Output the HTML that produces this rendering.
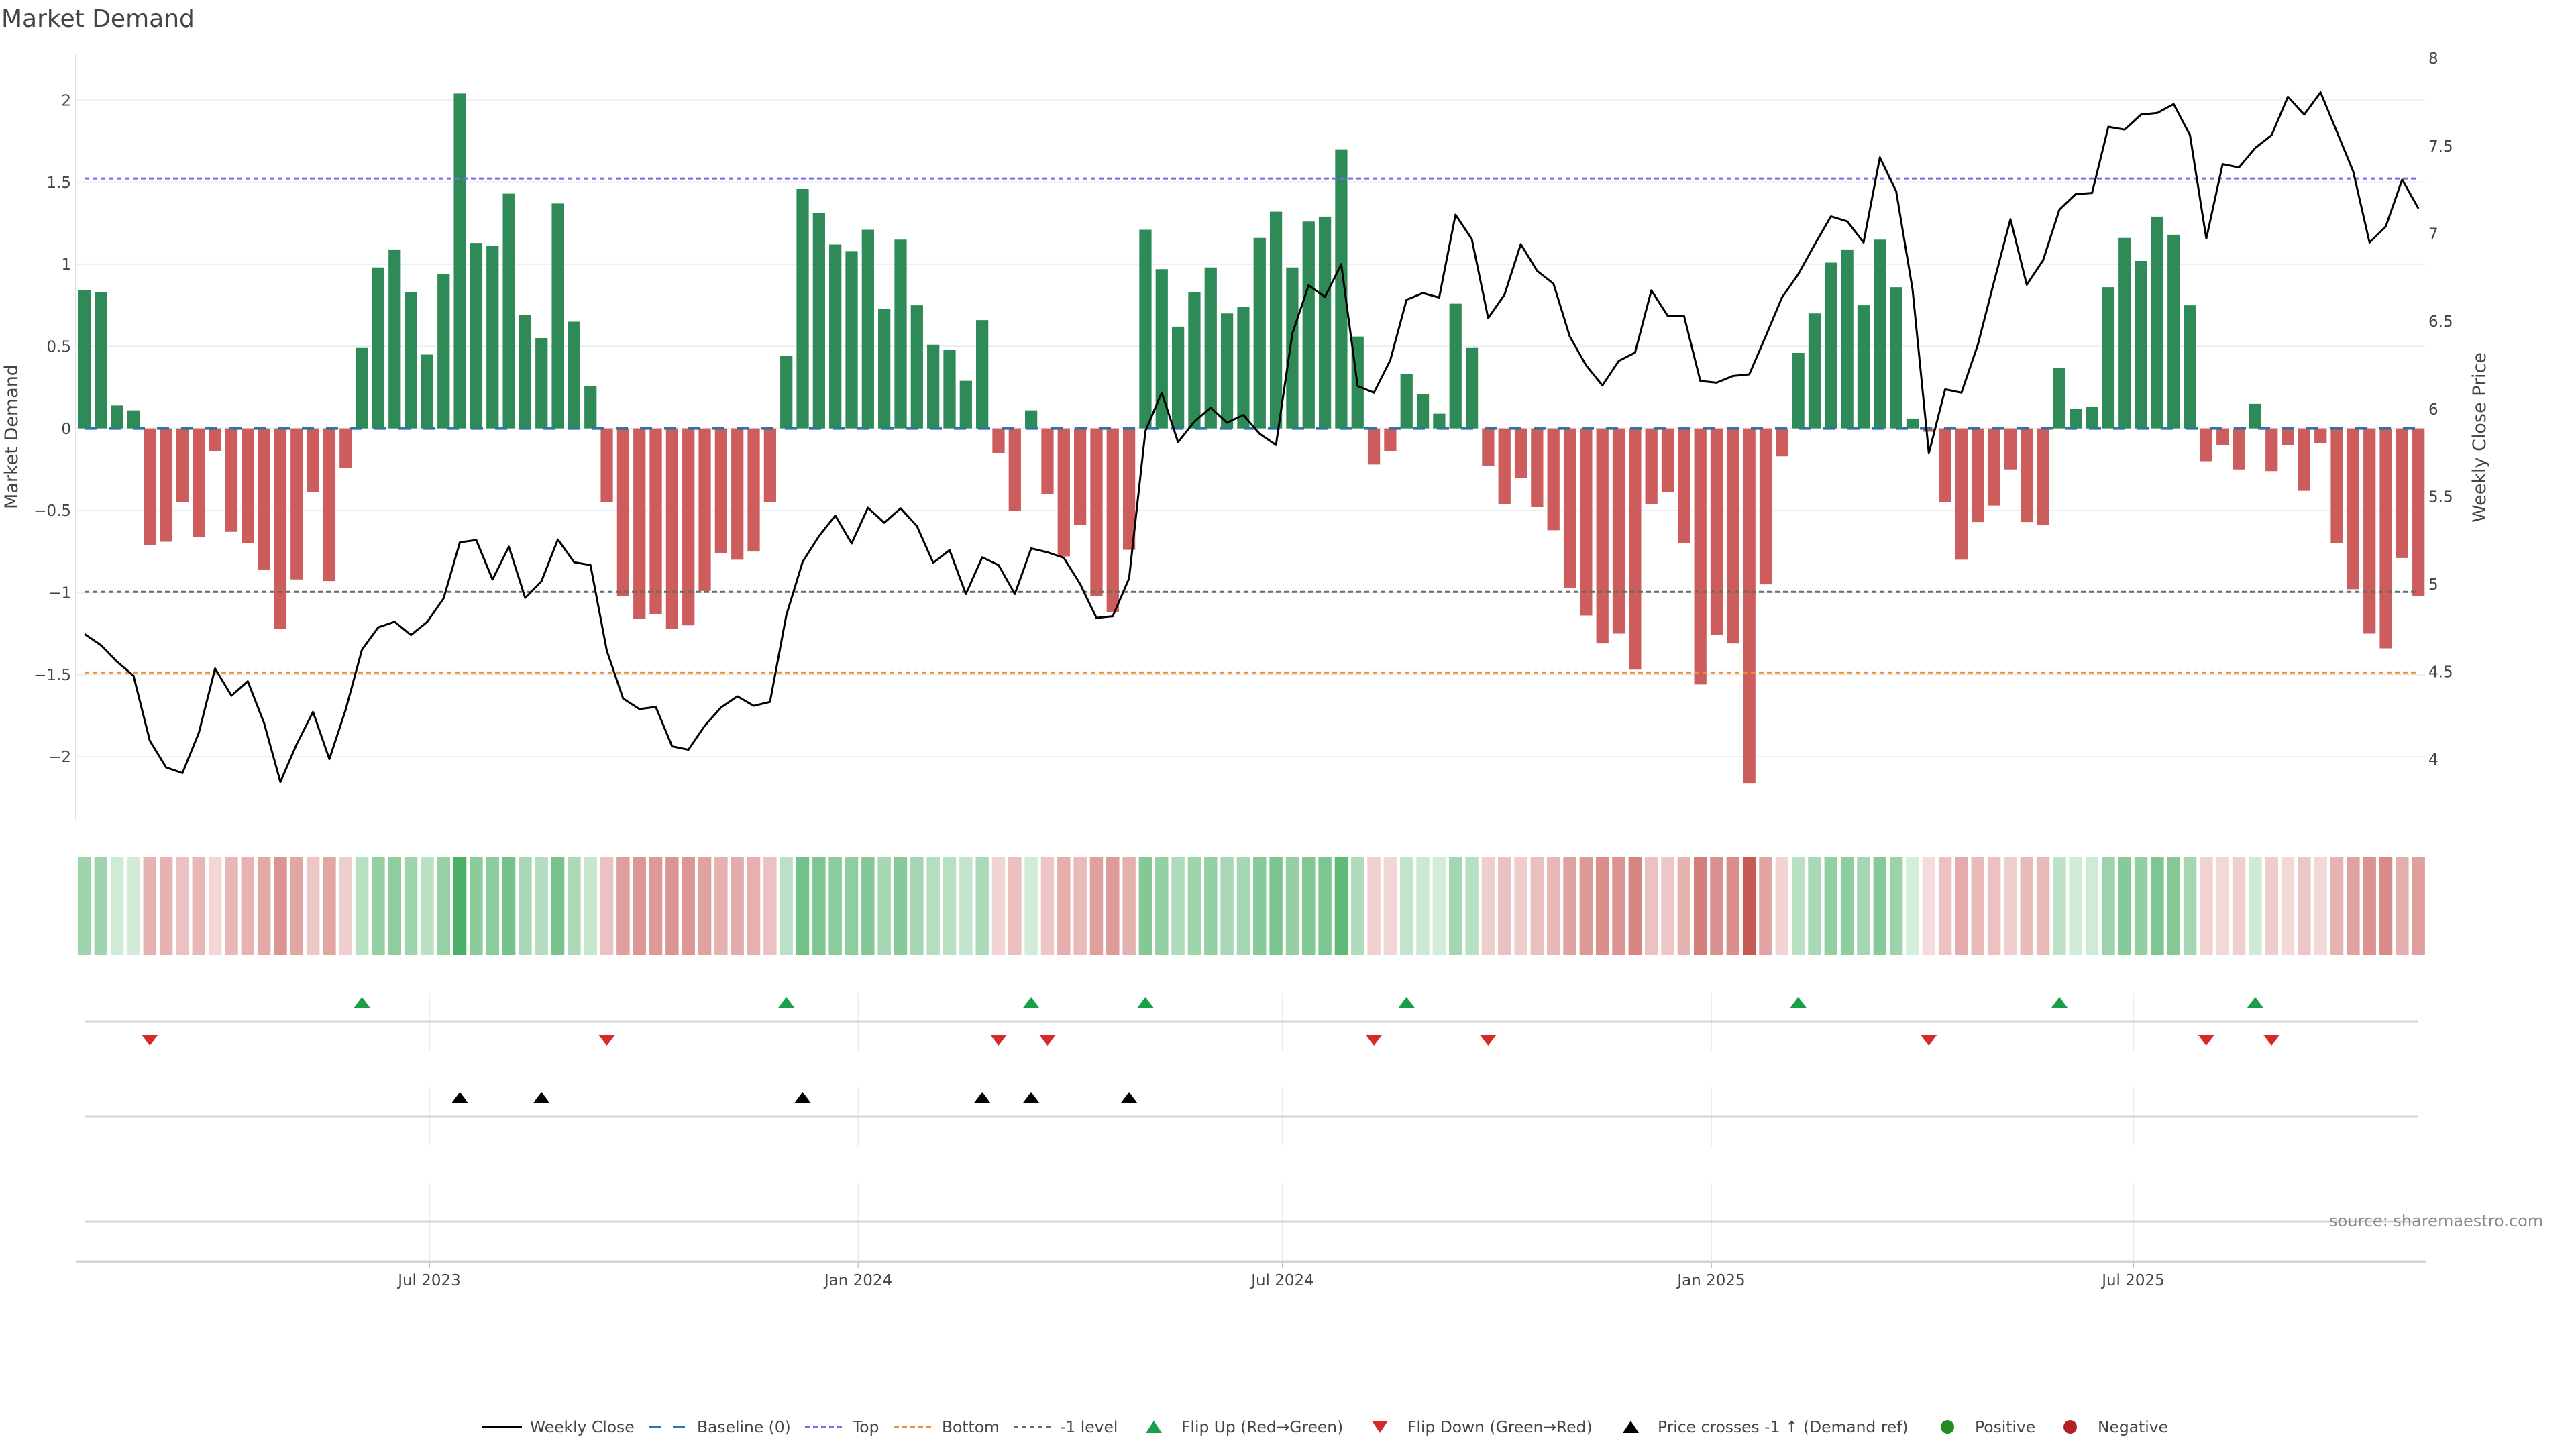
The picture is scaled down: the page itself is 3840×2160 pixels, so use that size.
<!DOCTYPE html>
<html><head><meta charset="utf-8"><title>Market Demand</title>
<style>
html,body{margin:0;padding:0;background:#fff;}
svg{display:block;font-family:"DejaVu Sans","Liberation Sans",sans-serif;}
.g{fill:#41ab5d}.r{fill:#c85a56}
.tk{font-size:23px;fill:#444}
.lg{font-size:23.4px;fill:#444}
</style></head>
<body>
<svg width="3840" height="2160" viewBox="0 0 3840 2160" xmlns="http://www.w3.org/2000/svg">
<rect width="3840" height="2160" fill="#fff"/>
<text x="2" y="40" font-size="36" fill="#444">Market Demand</text>

<!-- horizontal gridlines -->
<g stroke="#ebeef2" stroke-width="2">
<line x1="113" x2="3615" y1="149.2" y2="149.2"/>
<line x1="113" x2="3615" y1="271.6" y2="271.6"/>
<line x1="113" x2="3615" y1="393.9" y2="393.9"/>
<line x1="113" x2="3615" y1="516.3" y2="516.3"/>
<line x1="113" x2="3615" y1="638.6" y2="638.6"/>
<line x1="113" x2="3615" y1="761" y2="761"/>
<line x1="113" x2="3615" y1="883.3" y2="883.3"/>
<line x1="113" x2="3615" y1="1005.7" y2="1005.7"/>
<line x1="113" x2="3615" y1="1128" y2="1128"/>
</g>
<line x1="113" x2="113" y1="80" y2="1223" stroke="#dde1e6" stroke-width="2"/>

<!-- left ticks -->
<g class="tk" text-anchor="end">
<text x="106" y="157.5">2</text>
<text x="106" y="280">1.5</text>
<text x="106" y="402">1</text>
<text x="106" y="524.5">0.5</text>
<text x="106" y="647">0</text>
<text x="106" y="769">−0.5</text>
<text x="106" y="891.5">−1</text>
<text x="106" y="1014">−1.5</text>
<text x="106" y="1136">−2</text>
</g>
<!-- right ticks -->
<g class="tk">
<text x="3620" y="95">8</text>
<text x="3620" y="226">7.5</text>
<text x="3620" y="356.5">7</text>
<text x="3620" y="487">6.5</text>
<text x="3620" y="618">6</text>
<text x="3620" y="748.5">5.5</text>
<text x="3620" y="879">5</text>
<text x="3620" y="1009.5">4.5</text>
<text x="3620" y="1140">4</text>
</g>
<text transform="translate(26,651) rotate(-90)" text-anchor="middle" font-size="27" fill="#444">Market Demand</text>
<text transform="translate(3705,652) rotate(-90)" text-anchor="middle" font-size="27" fill="#444">Weekly Close Price</text>

<!-- bars -->
<g transform="translate(126,638.6) scale(24.33,-244.7)">
<path fill="#2e8b57" d="M-.375 0h.75v.84h-.75zM.625 0h.75v.83h-.75zM1.625 0h.75v.14h-.75zM2.625 0h.75v.11h-.75zM16.625 0h.75v.49h-.75zM17.625 0h.75v.98h-.75zM18.625 0h.75v1.09h-.75zM19.625 0h.75v.83h-.75zM20.625 0h.75v.45h-.75zM21.625 0h.75v.94h-.75zM22.625 0h.75v2.04h-.75zM23.625 0h.75v1.13h-.75zM24.625 0h.75v1.11h-.75zM25.625 0h.75v1.43h-.75zM26.625 0h.75v.69h-.75zM27.625 0h.75v.55h-.75zM28.625 0h.75v1.37h-.75zM29.625 0h.75v.65h-.75zM30.625 0h.75v.26h-.75zM42.625 0h.75v.44h-.75zM43.625 0h.75v1.46h-.75zM44.625 0h.75v1.31h-.75zM45.625 0h.75v1.12h-.75zM46.625 0h.75v1.08h-.75zM47.625 0h.75v1.21h-.75zM48.625 0h.75v.73h-.75zM49.625 0h.75v1.15h-.75zM50.625 0h.75v.75h-.75zM51.625 0h.75v.51h-.75zM52.625 0h.75v.48h-.75zM53.625 0h.75v.29h-.75zM54.625 0h.75v.66h-.75zM57.625 0h.75v.11h-.75zM64.625 0h.75v1.21h-.75zM65.625 0h.75v.97h-.75zM66.625 0h.75v.62h-.75zM67.625 0h.75v.83h-.75zM68.625 0h.75v.98h-.75zM69.625 0h.75v.70h-.75zM70.625 0h.75v.74h-.75zM71.625 0h.75v1.16h-.75zM72.625 0h.75v1.32h-.75zM73.625 0h.75v.98h-.75zM74.625 0h.75v1.26h-.75zM75.625 0h.75v1.29h-.75zM76.625 0h.75v1.70h-.75zM77.625 0h.75v.56h-.75zM80.625 0h.75v.33h-.75zM81.625 0h.75v.21h-.75zM82.625 0h.75v.09h-.75zM83.625 0h.75v.76h-.75zM84.625 0h.75v.49h-.75zM104.625 0h.75v.46h-.75zM105.625 0h.75v.70h-.75zM106.625 0h.75v1.01h-.75zM107.625 0h.75v1.09h-.75zM108.625 0h.75v.75h-.75zM109.625 0h.75v1.15h-.75zM110.625 0h.75v.86h-.75zM111.625 0h.75v.06h-.75zM120.625 0h.75v.37h-.75zM121.625 0h.75v.12h-.75zM122.625 0h.75v.13h-.75zM123.625 0h.75v.86h-.75zM124.625 0h.75v1.16h-.75zM125.625 0h.75v1.02h-.75zM126.625 0h.75v1.29h-.75zM127.625 0h.75v1.18h-.75zM128.625 0h.75v.75h-.75zM132.625 0h.75v.15h-.75z"/>
<path fill="#cd5c5c" d="M3.625 0h.75v-.71h-.75zM4.625 0h.75v-.69h-.75zM5.625 0h.75v-.45h-.75zM6.625 0h.75v-.66h-.75zM7.625 0h.75v-.14h-.75zM8.625 0h.75v-.63h-.75zM9.625 0h.75v-.70h-.75zM10.625 0h.75v-.86h-.75zM11.625 0h.75v-1.22h-.75zM12.625 0h.75v-.92h-.75zM13.625 0h.75v-.39h-.75zM14.625 0h.75v-.93h-.75zM15.625 0h.75v-.24h-.75zM31.625 0h.75v-.45h-.75zM32.625 0h.75v-1.02h-.75zM33.625 0h.75v-1.16h-.75zM34.625 0h.75v-1.13h-.75zM35.625 0h.75v-1.22h-.75zM36.625 0h.75v-1.20h-.75zM37.625 0h.75v-.99h-.75zM38.625 0h.75v-.76h-.75zM39.625 0h.75v-.80h-.75zM40.625 0h.75v-.75h-.75zM41.625 0h.75v-.45h-.75zM55.625 0h.75v-.15h-.75zM56.625 0h.75v-.50h-.75zM58.625 0h.75v-.40h-.75zM59.625 0h.75v-.78h-.75zM60.625 0h.75v-.59h-.75zM61.625 0h.75v-1.02h-.75zM62.625 0h.75v-1.12h-.75zM63.625 0h.75v-.74h-.75zM78.625 0h.75v-.22h-.75zM79.625 0h.75v-.14h-.75zM85.625 0h.75v-.23h-.75zM86.625 0h.75v-.46h-.75zM87.625 0h.75v-.30h-.75zM88.625 0h.75v-.48h-.75zM89.625 0h.75v-.62h-.75zM90.625 0h.75v-.97h-.75zM91.625 0h.75v-1.14h-.75zM92.625 0h.75v-1.31h-.75zM93.625 0h.75v-1.25h-.75zM94.625 0h.75v-1.47h-.75zM95.625 0h.75v-.46h-.75zM96.625 0h.75v-.39h-.75zM97.625 0h.75v-.70h-.75zM98.625 0h.75v-1.56h-.75zM99.625 0h.75v-1.26h-.75zM100.625 0h.75v-1.31h-.75zM101.625 0h.75v-2.16h-.75zM102.625 0h.75v-.95h-.75zM103.625 0h.75v-.17h-.75zM112.625 0h.75v-.02h-.75zM113.625 0h.75v-.45h-.75zM114.625 0h.75v-.80h-.75zM115.625 0h.75v-.57h-.75zM116.625 0h.75v-.47h-.75zM117.625 0h.75v-.25h-.75zM118.625 0h.75v-.57h-.75zM119.625 0h.75v-.59h-.75zM129.625 0h.75v-.20h-.75zM130.625 0h.75v-.10h-.75zM131.625 0h.75v-.25h-.75zM133.625 0h.75v-.26h-.75zM134.625 0h.75v-.10h-.75zM135.625 0h.75v-.38h-.75zM136.625 0h.75v-.09h-.75zM137.625 0h.75v-.70h-.75zM138.625 0h.75v-.98h-.75zM139.625 0h.75v-1.25h-.75zM140.625 0h.75v-1.34h-.75zM141.625 0h.75v-.79h-.75zM142.625 0h.75v-1.02h-.75z"/>
</g>

<!-- reference lines -->
<line x1="126" x2="3605" y1="266.1" y2="266.1" stroke="#7b68ee" stroke-width="3" stroke-dasharray="7,5"/>
<line x1="126" x2="3605" y1="882.3" y2="882.3" stroke="#6a6a6a" stroke-width="3" stroke-dasharray="7,5"/>
<line x1="126" x2="3605" y1="1002.4" y2="1002.4" stroke="#ea9032" stroke-width="3" stroke-dasharray="7,5"/>
<line x1="126" x2="3605" y1="638.6" y2="638.6" stroke="#2f74a8" stroke-width="4" stroke-dasharray="18,18"/>

<!-- price line -->
<g transform="translate(126,0) scale(24.33,0.82905)">
<polyline fill="none" stroke="#000" stroke-width="3" stroke-linejoin="round" vector-effect="non-scaling-stroke" points="0,1140 1,1160 2,1190 3,1215 4,1332 5,1380 6,1390 7,1318 8,1202 9,1251 10,1225 11,1300 12,1406 13,1338 14,1280 15,1365 16,1276 17,1168 18,1128 19,1118 20,1142 21,1118 22,1076 23,975 24,971 25,1042 26,983 27,1075 28,1045 29,970 30,1011 31,1016 32,1170 33,1256 34,1275 35,1271 36,1342 37,1348 38,1305 39,1272 40,1252 41,1269 42,1262 43,1106 44,1010 45,964 46,927 47,977 48,913 49,940 50,914 51,946 52,1012 53,989 54,1068 55,1002 56,1016 57,1068 58,986 59,993 60,1003 61,1050 62,1111 63,1108 64,1040 65,775 66,706 67,795 68,758 69,733 70,760 71,746 72,780 73,800 74,600 75,513 76,534 77,475 78,694 79,706 80,648 81,539 82,527 83,535 84,386 85,430 86,572 87,530 88,439 89,487 90,510 91,605 92,657 93,693 94,649 95,634 96,522 97,568 98,568 99,685 100,688 101,676 102,673 103,605 104,535 105,493 106,440 107,389 108,398 109,436 110,283 111,344 112,520 113,815 114,700 115,706 116,620 117,506 118,394 119,512 120,468 121,377 122,349 123,347 124,228 125,233 126,206 127,203 128,187 129,243 130,429 131,295 132,301 133,266 134,243 135,174 136,206 137,166 138,237 139,308 140,436 141,407 142,323 143,375"/>
</g>

<!-- heat strip -->
<g transform="translate(126,0) scale(24.33,1)">
<rect class="g" fill-opacity=".51" x="-.4" y="1278" width=".8" height="146"/>
<rect class="g" fill-opacity=".51" x=".6" y="1278" width=".8" height="146"/>
<rect class="g" fill-opacity=".25" x="1.6" y="1278" width=".8" height="146"/>
<rect class="g" fill-opacity=".24" x="2.6" y="1278" width=".8" height="146"/>
<rect class="r" fill-opacity=".46" x="3.6" y="1278" width=".8" height="146"/>
<rect class="r" fill-opacity=".46" x="4.6" y="1278" width=".8" height="146"/>
<rect class="r" fill-opacity=".37" x="5.6" y="1278" width=".8" height="146"/>
<rect class="r" fill-opacity=".44" x="6.6" y="1278" width=".8" height="146"/>
<rect class="r" fill-opacity=".25" x="7.6" y="1278" width=".8" height="146"/>
<rect class="r" fill-opacity=".43" x="8.6" y="1278" width=".8" height="146"/>
<rect class="r" fill-opacity=".46" x="9.6" y="1278" width=".8" height="146"/>
<rect class="r" fill-opacity=".52" x="10.6" y="1278" width=".8" height="146"/>
<rect class="r" fill-opacity=".65" x="11.6" y="1278" width=".8" height="146"/>
<rect class="r" fill-opacity=".54" x="12.6" y="1278" width=".8" height="146"/>
<rect class="r" fill-opacity=".34" x="13.6" y="1278" width=".8" height="146"/>
<rect class="r" fill-opacity=".54" x="14.6" y="1278" width=".8" height="146"/>
<rect class="r" fill-opacity=".29" x="15.6" y="1278" width=".8" height="146"/>
<rect class="g" fill-opacity=".38" x="16.6" y="1278" width=".8" height="146"/>
<rect class="g" fill-opacity=".56" x="17.6" y="1278" width=".8" height="146"/>
<rect class="g" fill-opacity=".60" x="18.6" y="1278" width=".8" height="146"/>
<rect class="g" fill-opacity=".51" x="19.6" y="1278" width=".8" height="146"/>
<rect class="g" fill-opacity=".37" x="20.6" y="1278" width=".8" height="146"/>
<rect class="g" fill-opacity=".55" x="21.6" y="1278" width=".8" height="146"/>
<rect class="g" fill-opacity=".95" x="22.6" y="1278" width=".8" height="146"/>
<rect class="g" fill-opacity=".62" x="23.6" y="1278" width=".8" height="146"/>
<rect class="g" fill-opacity=".61" x="24.6" y="1278" width=".8" height="146"/>
<rect class="g" fill-opacity=".73" x="25.6" y="1278" width=".8" height="146"/>
<rect class="g" fill-opacity=".46" x="26.6" y="1278" width=".8" height="146"/>
<rect class="g" fill-opacity=".40" x="27.6" y="1278" width=".8" height="146"/>
<rect class="g" fill-opacity=".71" x="28.6" y="1278" width=".8" height="146"/>
<rect class="g" fill-opacity=".44" x="29.6" y="1278" width=".8" height="146"/>
<rect class="g" fill-opacity=".30" x="30.6" y="1278" width=".8" height="146"/>
<rect class="r" fill-opacity=".37" x="31.6" y="1278" width=".8" height="146"/>
<rect class="r" fill-opacity=".58" x="32.6" y="1278" width=".8" height="146"/>
<rect class="r" fill-opacity=".63" x="33.6" y="1278" width=".8" height="146"/>
<rect class="r" fill-opacity=".62" x="34.6" y="1278" width=".8" height="146"/>
<rect class="r" fill-opacity=".65" x="35.6" y="1278" width=".8" height="146"/>
<rect class="r" fill-opacity=".64" x="36.6" y="1278" width=".8" height="146"/>
<rect class="r" fill-opacity=".57" x="37.6" y="1278" width=".8" height="146"/>
<rect class="r" fill-opacity=".48" x="38.6" y="1278" width=".8" height="146"/>
<rect class="r" fill-opacity=".50" x="39.6" y="1278" width=".8" height="146"/>
<rect class="r" fill-opacity=".48" x="40.6" y="1278" width=".8" height="146"/>
<rect class="r" fill-opacity=".37" x="41.6" y="1278" width=".8" height="146"/>
<rect class="g" fill-opacity=".36" x="42.6" y="1278" width=".8" height="146"/>
<rect class="g" fill-opacity=".74" x="43.6" y="1278" width=".8" height="146"/>
<rect class="g" fill-opacity=".68" x="44.6" y="1278" width=".8" height="146"/>
<rect class="g" fill-opacity=".61" x="45.6" y="1278" width=".8" height="146"/>
<rect class="g" fill-opacity=".60" x="46.6" y="1278" width=".8" height="146"/>
<rect class="g" fill-opacity=".65" x="47.6" y="1278" width=".8" height="146"/>
<rect class="g" fill-opacity=".47" x="48.6" y="1278" width=".8" height="146"/>
<rect class="g" fill-opacity=".63" x="49.6" y="1278" width=".8" height="146"/>
<rect class="g" fill-opacity=".48" x="50.6" y="1278" width=".8" height="146"/>
<rect class="g" fill-opacity=".39" x="51.6" y="1278" width=".8" height="146"/>
<rect class="g" fill-opacity=".38" x="52.6" y="1278" width=".8" height="146"/>
<rect class="g" fill-opacity=".31" x="53.6" y="1278" width=".8" height="146"/>
<rect class="g" fill-opacity=".44" x="54.6" y="1278" width=".8" height="146"/>
<rect class="r" fill-opacity=".26" x="55.6" y="1278" width=".8" height="146"/>
<rect class="r" fill-opacity=".39" x="56.6" y="1278" width=".8" height="146"/>
<rect class="g" fill-opacity=".24" x="57.6" y="1278" width=".8" height="146"/>
<rect class="r" fill-opacity=".35" x="58.6" y="1278" width=".8" height="146"/>
<rect class="r" fill-opacity=".49" x="59.6" y="1278" width=".8" height="146"/>
<rect class="r" fill-opacity=".42" x="60.6" y="1278" width=".8" height="146"/>
<rect class="r" fill-opacity=".58" x="61.6" y="1278" width=".8" height="146"/>
<rect class="r" fill-opacity=".61" x="62.6" y="1278" width=".8" height="146"/>
<rect class="r" fill-opacity=".47" x="63.6" y="1278" width=".8" height="146"/>
<rect class="g" fill-opacity=".65" x="64.6" y="1278" width=".8" height="146"/>
<rect class="g" fill-opacity=".56" x="65.6" y="1278" width=".8" height="146"/>
<rect class="g" fill-opacity=".43" x="66.6" y="1278" width=".8" height="146"/>
<rect class="g" fill-opacity=".51" x="67.6" y="1278" width=".8" height="146"/>
<rect class="g" fill-opacity=".56" x="68.6" y="1278" width=".8" height="146"/>
<rect class="g" fill-opacity=".46" x="69.6" y="1278" width=".8" height="146"/>
<rect class="g" fill-opacity=".47" x="70.6" y="1278" width=".8" height="146"/>
<rect class="g" fill-opacity=".63" x="71.6" y="1278" width=".8" height="146"/>
<rect class="g" fill-opacity=".69" x="72.6" y="1278" width=".8" height="146"/>
<rect class="g" fill-opacity=".56" x="73.6" y="1278" width=".8" height="146"/>
<rect class="g" fill-opacity=".67" x="74.6" y="1278" width=".8" height="146"/>
<rect class="g" fill-opacity=".68" x="75.6" y="1278" width=".8" height="146"/>
<rect class="g" fill-opacity=".83" x="76.6" y="1278" width=".8" height="146"/>
<rect class="g" fill-opacity=".41" x="77.6" y="1278" width=".8" height="146"/>
<rect class="r" fill-opacity=".28" x="78.6" y="1278" width=".8" height="146"/>
<rect class="r" fill-opacity=".25" x="79.6" y="1278" width=".8" height="146"/>
<rect class="g" fill-opacity=".32" x="80.6" y="1278" width=".8" height="146"/>
<rect class="g" fill-opacity=".28" x="81.6" y="1278" width=".8" height="146"/>
<rect class="g" fill-opacity=".23" x="82.6" y="1278" width=".8" height="146"/>
<rect class="g" fill-opacity=".48" x="83.6" y="1278" width=".8" height="146"/>
<rect class="g" fill-opacity=".38" x="84.6" y="1278" width=".8" height="146"/>
<rect class="r" fill-opacity=".29" x="85.6" y="1278" width=".8" height="146"/>
<rect class="r" fill-opacity=".37" x="86.6" y="1278" width=".8" height="146"/>
<rect class="r" fill-opacity=".31" x="87.6" y="1278" width=".8" height="146"/>
<rect class="r" fill-opacity=".38" x="88.6" y="1278" width=".8" height="146"/>
<rect class="r" fill-opacity=".43" x="89.6" y="1278" width=".8" height="146"/>
<rect class="r" fill-opacity=".56" x="90.6" y="1278" width=".8" height="146"/>
<rect class="r" fill-opacity=".62" x="91.6" y="1278" width=".8" height="146"/>
<rect class="r" fill-opacity=".68" x="92.6" y="1278" width=".8" height="146"/>
<rect class="r" fill-opacity=".66" x="93.6" y="1278" width=".8" height="146"/>
<rect class="r" fill-opacity=".74" x="94.6" y="1278" width=".8" height="146"/>
<rect class="r" fill-opacity=".37" x="95.6" y="1278" width=".8" height="146"/>
<rect class="r" fill-opacity=".34" x="96.6" y="1278" width=".8" height="146"/>
<rect class="r" fill-opacity=".46" x="97.6" y="1278" width=".8" height="146"/>
<rect class="r" fill-opacity=".78" x="98.6" y="1278" width=".8" height="146"/>
<rect class="r" fill-opacity=".67" x="99.6" y="1278" width=".8" height="146"/>
<rect class="r" fill-opacity=".68" x="100.6" y="1278" width=".8" height="146"/>
<rect class="r" fill-opacity="1" x="101.6" y="1278" width=".8" height="146"/>
<rect class="r" fill-opacity=".55" x="102.6" y="1278" width=".8" height="146"/>
<rect class="r" fill-opacity=".26" x="103.6" y="1278" width=".8" height="146"/>
<rect class="g" fill-opacity=".37" x="104.6" y="1278" width=".8" height="146"/>
<rect class="g" fill-opacity=".46" x="105.6" y="1278" width=".8" height="146"/>
<rect class="g" fill-opacity=".57" x="106.6" y="1278" width=".8" height="146"/>
<rect class="g" fill-opacity=".60" x="107.6" y="1278" width=".8" height="146"/>
<rect class="g" fill-opacity=".48" x="108.6" y="1278" width=".8" height="146"/>
<rect class="g" fill-opacity=".63" x="109.6" y="1278" width=".8" height="146"/>
<rect class="g" fill-opacity=".52" x="110.6" y="1278" width=".8" height="146"/>
<rect class="g" fill-opacity=".22" x="111.6" y="1278" width=".8" height="146"/>
<rect class="r" fill-opacity=".21" x="112.6" y="1278" width=".8" height="146"/>
<rect class="r" fill-opacity=".37" x="113.6" y="1278" width=".8" height="146"/>
<rect class="r" fill-opacity=".50" x="114.6" y="1278" width=".8" height="146"/>
<rect class="r" fill-opacity=".41" x="115.6" y="1278" width=".8" height="146"/>
<rect class="r" fill-opacity=".37" x="116.6" y="1278" width=".8" height="146"/>
<rect class="r" fill-opacity=".29" x="117.6" y="1278" width=".8" height="146"/>
<rect class="r" fill-opacity=".41" x="118.6" y="1278" width=".8" height="146"/>
<rect class="r" fill-opacity=".42" x="119.6" y="1278" width=".8" height="146"/>
<rect class="g" fill-opacity=".34" x="120.6" y="1278" width=".8" height="146"/>
<rect class="g" fill-opacity=".24" x="121.6" y="1278" width=".8" height="146"/>
<rect class="g" fill-opacity=".25" x="122.6" y="1278" width=".8" height="146"/>
<rect class="g" fill-opacity=".52" x="123.6" y="1278" width=".8" height="146"/>
<rect class="g" fill-opacity=".63" x="124.6" y="1278" width=".8" height="146"/>
<rect class="g" fill-opacity=".58" x="125.6" y="1278" width=".8" height="146"/>
<rect class="g" fill-opacity=".68" x="126.6" y="1278" width=".8" height="146"/>
<rect class="g" fill-opacity=".64" x="127.6" y="1278" width=".8" height="146"/>
<rect class="g" fill-opacity=".48" x="128.6" y="1278" width=".8" height="146"/>
<rect class="r" fill-opacity=".27" x="129.6" y="1278" width=".8" height="146"/>
<rect class="r" fill-opacity=".24" x="130.6" y="1278" width=".8" height="146"/>
<rect class="r" fill-opacity=".29" x="131.6" y="1278" width=".8" height="146"/>
<rect class="g" fill-opacity=".26" x="132.6" y="1278" width=".8" height="146"/>
<rect class="r" fill-opacity=".30" x="133.6" y="1278" width=".8" height="146"/>
<rect class="r" fill-opacity=".24" x="134.6" y="1278" width=".8" height="146"/>
<rect class="r" fill-opacity=".34" x="135.6" y="1278" width=".8" height="146"/>
<rect class="r" fill-opacity=".23" x="136.6" y="1278" width=".8" height="146"/>
<rect class="r" fill-opacity=".46" x="137.6" y="1278" width=".8" height="146"/>
<rect class="r" fill-opacity=".56" x="138.6" y="1278" width=".8" height="146"/>
<rect class="r" fill-opacity=".66" x="139.6" y="1278" width=".8" height="146"/>
<rect class="r" fill-opacity=".70" x="140.6" y="1278" width=".8" height="146"/>
<rect class="r" fill-opacity=".49" x="141.6" y="1278" width=".8" height="146"/>
<rect class="r" fill-opacity=".58" x="142.6" y="1278" width=".8" height="146"/>
</g>

<!-- marker rows: vertical grid -->
<g stroke="#e8ebef" stroke-width="2">
<line x1="640" x2="640" y1="1480" y2="1566"/><line x1="1279.5" x2="1279.5" y1="1480" y2="1566"/><line x1="1912" x2="1912" y1="1480" y2="1566"/><line x1="2551" x2="2551" y1="1480" y2="1566"/><line x1="3180" x2="3180" y1="1480" y2="1566"/>
<line x1="640" x2="640" y1="1620" y2="1708"/><line x1="1279.5" x2="1279.5" y1="1620" y2="1708"/><line x1="1912" x2="1912" y1="1620" y2="1708"/><line x1="2551" x2="2551" y1="1620" y2="1708"/><line x1="3180" x2="3180" y1="1620" y2="1708"/>
<line x1="640" x2="640" y1="1763" y2="1881"/><line x1="1279.5" x2="1279.5" y1="1763" y2="1881"/><line x1="1912" x2="1912" y1="1763" y2="1881"/><line x1="2551" x2="2551" y1="1763" y2="1881"/><line x1="3180" x2="3180" y1="1763" y2="1881"/>
</g>
<g stroke="#d4d4d4" stroke-width="3">
<line x1="126" x2="3605" y1="1523" y2="1523"/>
<line x1="126" x2="3605" y1="1664" y2="1664"/>
<line x1="126" x2="3605" y1="1821" y2="1821"/>
<line x1="114" x2="3616" y1="1881" y2="1881"/>
</g>
<g stroke="#c4c4c4" stroke-width="2">
<line x1="640" x2="640" y1="1881" y2="1890"/><line x1="1279.5" x2="1279.5" y1="1881" y2="1890"/><line x1="1912" x2="1912" y1="1881" y2="1890"/><line x1="2551" x2="2551" y1="1881" y2="1890"/><line x1="3180" x2="3180" y1="1881" y2="1890"/>
</g>
<g class="tk" text-anchor="middle">
<text x="640" y="1916">Jul 2023</text>
<text x="1279.5" y="1916">Jan 2024</text>
<text x="1912" y="1916">Jul 2024</text>
<text x="2551" y="1916">Jan 2025</text>
<text x="3180" y="1916">Jul 2025</text>
</g>

<!-- flip up markers -->
<g fill="#1a9e4a">
<polygon points="527.6,1502 551.6,1502 539.6,1486"/>
<polygon points="1160.2,1502 1184.2,1502 1172.2,1486"/>
<polygon points="1525.1,1502 1549.1,1502 1537.1,1486"/>
<polygon points="1695.5,1502 1719.5,1502 1707.5,1486"/>
<polygon points="2084.7,1502 2108.7,1502 2096.7,1486"/>
<polygon points="2668.7,1502 2692.7,1502 2680.7,1486"/>
<polygon points="3058,1502 3082,1502 3070,1486"/>
<polygon points="3349.9,1502 3373.9,1502 3361.9,1486"/>
</g>
<!-- flip down markers -->
<g fill="#d62a2a">
<polygon points="211.3,1543 235.3,1543 223.3,1559"/>
<polygon points="892.6,1543 916.6,1543 904.6,1559"/>
<polygon points="1476.5,1543 1500.5,1543 1488.5,1559"/>
<polygon points="1549.5,1543 1573.5,1543 1561.5,1559"/>
<polygon points="2036,1543 2060,1543 2048,1559"/>
<polygon points="2206.3,1543 2230.3,1543 2218.3,1559"/>
<polygon points="2863.2,1543 2887.2,1543 2875.2,1559"/>
<polygon points="3276.8,1543 3300.8,1543 3288.8,1559"/>
<polygon points="3374.2,1543 3398.2,1543 3386.2,1559"/>
</g>
<!-- price crosses markers -->
<g fill="#000">
<polygon points="673.6,1644 697.6,1644 685.6,1628"/>
<polygon points="795.2,1644 819.2,1644 807.2,1628"/>
<polygon points="1184.5,1644 1208.5,1644 1196.5,1628"/>
<polygon points="1452.2,1644 1476.2,1644 1464.2,1628"/>
<polygon points="1525.1,1644 1549.1,1644 1537.1,1628"/>
<polygon points="1671.1,1644 1695.1,1644 1683.1,1628"/>
</g>

<text x="3472" y="1828" font-size="24" fill="#8a8a8a">source: sharemaestro.com</text>

<!-- legend -->
<line x1="718" x2="778" y1="2127" y2="2127" stroke="#000" stroke-width="4"/>
<text class="lg" x="790" y="2135">Weekly Close</text>
<line x1="967" x2="1022" y1="2127" y2="2127" stroke="#2f74a8" stroke-width="4" stroke-dasharray="18,18"/>
<text class="lg" x="1039" y="2135">Baseline (0)</text>
<line x1="1200" x2="1256" y1="2127" y2="2127" stroke="#7b68ee" stroke-width="3.5" stroke-dasharray="7,5"/>
<text class="lg" x="1271" y="2135">Top</text>
<line x1="1333" x2="1389" y1="2127" y2="2127" stroke="#ea9032" stroke-width="3.5" stroke-dasharray="7,5"/>
<text class="lg" x="1404" y="2135">Bottom</text>
<line x1="1511" x2="1567" y1="2127" y2="2127" stroke="#6a6a6a" stroke-width="3.5" stroke-dasharray="7,5"/>
<text class="lg" x="1580" y="2135">-1 level</text>
<polygon points="1708,2136 1732,2136 1720,2118" fill="#1a9e4a"/>
<text class="lg" x="1761" y="2135">Flip Up (Red→Green)</text>
<polygon points="2045,2118 2069,2118 2057,2136" fill="#d62a2a"/>
<text class="lg" x="2098" y="2135">Flip Down (Green→Red)</text>
<polygon points="2419,2136 2443,2136 2431,2118" fill="#000"/>
<text class="lg" x="2471" y="2135">Price crosses -1 ↑ (Demand ref)</text>
<circle cx="2903" cy="2127" r="10" fill="#228b22"/>
<text class="lg" x="2944" y="2135">Positive</text>
<circle cx="3086" cy="2127" r="10" fill="#b22222"/>
<text class="lg" x="3127" y="2135">Negative</text>
</svg>
</body></html>
